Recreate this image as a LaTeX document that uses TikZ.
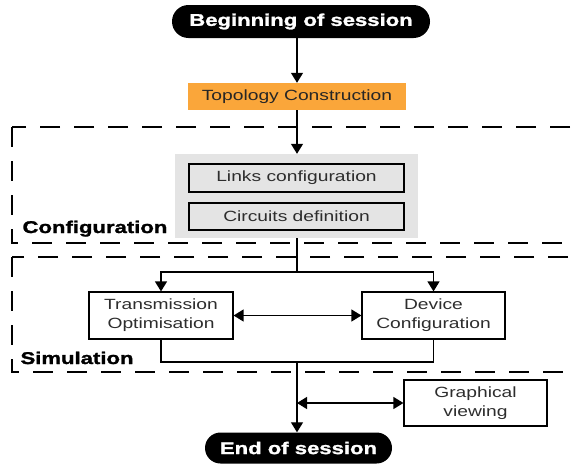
\documentclass[tikz,border=0pt]{standalone}
\usepackage{fontspec}
\setmainfont{Liberation Sans}
\newfontfamily\flowfont{Liberation Sans}[FakeStretch=1.3, BoldFeatures={FakeBold=1.5}]
\usetikzlibrary{arrows.meta,shapes.misc}
\definecolor{topoorange}{RGB}{250,166,58}
\definecolor{groupgray}{RGB}{228,228,228}
\definecolor{boxtext}{RGB}{45,45,45}
\tikzset{
  regtext/.style={font=\flowfont\fontsize{14.8}{19.3}\selectfont, text=boxtext},
  boldtext/.style={font=\flowfont\bfseries\fontsize{17}{20}\selectfont},
  pill/.style={rounded rectangle, fill=black, text=white, boldtext, inner sep=0pt},
  plainbox/.style={draw=black, line width=1.2pt, regtext, align=center, inner sep=0pt},
  region/.style={draw=black, line width=1.3pt, dash pattern=on 20pt off 14pt},
  conn/.style={draw=black, line width=1.3pt},
  arr/.style={conn, -{Triangle[width=12pt,length=10pt]}},
  dblarr/.style={conn, {Triangle[width=12pt,length=10pt]}-{Triangle[width=12pt,length=10pt]}},
}
\begin{document}
\begin{tikzpicture}[x=1pt,y=-1pt]
\useasboundingbox (0,0) rectangle (575,463);
\clip (0,0) rectangle (575,463);

% dashed phase regions
\draw[region] (12,127) rectangle (600,243);
\draw[region] (12,257) rectangle (600,372);
\node[boldtext, anchor=base west] (cfglabel) at (19,233) {Configuration};
\node[boldtext, anchor=base west] (simlabel) at (17,364) {Simulation};

% session start and topology
\node[pill, minimum width=258pt, minimum height=33pt] (begin) at (301,21.5) {Beginning of session};
\node[fill=topoorange, regtext, text=black!85, minimum width=218pt, minimum height=27pt, inner sep=0pt] (topo) at (297,96.5) {Topology Construction};

% configuration group
\node[fill=groupgray, minimum width=243pt, minimum height=84pt, inner sep=0pt] (group) at (296.5,196) {};
\node[plainbox, minimum width=215pt, minimum height=28pt] (links) at (296.5,178) {Links configuration};
\node[plainbox, minimum width=215pt, minimum height=27pt] (circ) at (296.5,216.5) {Circuits definition};

% simulation boxes
\node[plainbox, minimum width=144pt, minimum height=47pt] (trans) at (161,315.5) {Transmission\\Optimisation};
\node[plainbox, minimum width=143pt, minimum height=47pt] (dev) at (433.5,315.5) {Device\\Configuration};

% viewing and end
\node[plainbox, minimum width=143pt, minimum height=46pt] (view) at (475.5,403) {Graphical\\viewing};
\node[pill, minimum width=187pt, minimum height=31pt] (end) at (298.5,448) {End of session};

% junction points
\coordinate (split) at (297,272);
\coordinate (join) at (297,362);
\coordinate (viewjoin) at (297,403);

% connectors
\draw[arr] (topo.north |- begin.south) -- (topo.north);
\draw[arr] (topo.south) -- (topo.south |- group.north);
\draw[conn] (group.south -| split) -- (split);
\draw[arr] (split) -| (trans.north);
\draw[arr] (split) -| (dev.north);
\draw[dblarr] (trans.east) -- (dev.west);
\draw[conn] (trans.south) |- (join) -| (dev.south);
\draw[arr] (join) -- (join |- end.north);
\draw[dblarr] (viewjoin) -- (view.west);
\end{tikzpicture}
\end{document}
